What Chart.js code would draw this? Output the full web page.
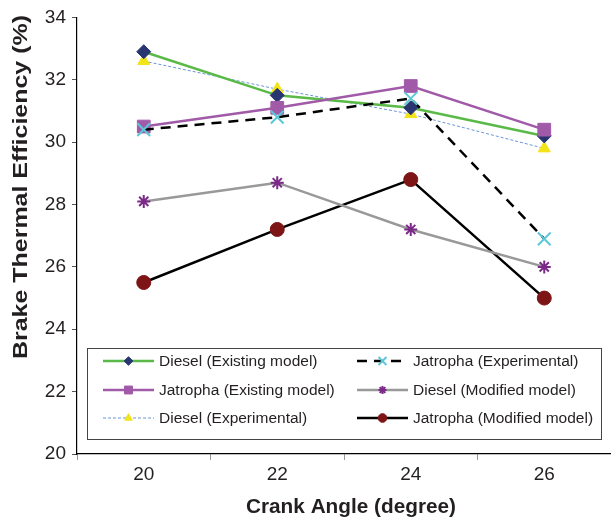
<!DOCTYPE html>
<html>
<head>
  <meta charset="UTF-8">
  <title>Brake Thermal Efficiency vs Crank Angle</title>
  <script src="https://cdn.jsdelivr.net/npm/chart.js"></script>
  <style>
    html, body { margin: 0; padding: 0; background: #fff; }
    #wrap { width: 611px; height: 519px; position: relative; }
  </style>
</head>
<body>
  <div id="wrap"><canvas id="bte"></canvas></div>

  <script>
    // crank angle (degree)
    const crankAngles = ['20', '22', '24', '26'];
    const yTicks = [20, 22, 24, 26, 28, 30, 32, 34];

    // brake thermal efficiency (%)
    const dieselExisting   = [32.9, 31.5, 31.1, 30.2];
    const jatrophaExisting = [30.5, 31.1, 31.8, 30.4];
    const dieselExp        = [32.6, 31.7, 30.9, 29.8];
    const jatrophaExp      = [30.4, 30.8, 31.4, 26.9];
    const dieselModified   = [28.1, 28.7, 27.2, 26.0];
    const jatrophaModified = [25.5, 27.2, 28.8, 25.0];

    const FONT = '"Liberation Sans", Arial, sans-serif';

    // legend drawn inside the plot, two columns of three
    const boxLegend = {
      id: 'boxLegend',
      afterDraw(chart) {
        const ctx = chart.ctx;
        ctx.save();
        ctx.fillStyle = '#fff';
        ctx.fillRect(87, 348, 514, 91);
        ctx.strokeStyle = '#444';
        ctx.lineWidth = 1;
        ctx.strokeRect(87.5, 348.5, 514, 91);

        const cols = [103, 357];
        const rows = [361, 390, 418];
        chart.data.datasets.forEach((ds, i) => {
          const x0 = cols[Math.floor(i / 3)];
          const y = rows[i % 3];
          ctx.save();
          ctx.strokeStyle = ds.borderColor;
          ctx.lineWidth = ds.borderWidth;
          ctx.setLineDash(ds.borderDash || []);
          ctx.beginPath();
          ctx.moveTo(x0, y);
          ctx.lineTo(x0 + 51, y);
          ctx.stroke();
          ctx.restore();

          ctx.save();
          ctx.fillStyle = ds.pointBackgroundColor;
          ctx.strokeStyle = ds.pointBorderColor;
          ctx.lineWidth = ds.pointBorderWidth;
          Chart.helpers.drawPoint(ctx, {
            pointStyle: ds.pointStyle,
            radius: ds.pointRadius * 0.62,
            rotation: 0,
            borderWidth: ds.pointBorderWidth
          }, x0 + 25.5, y);
          ctx.restore();

          ctx.fillStyle = '#231f20';
          ctx.font = '15.5px ' + FONT;
          ctx.textBaseline = 'middle';
          ctx.textAlign = 'left';
          ctx.fillText(ds.label, x0 + 56, y + 1);
        });

        // axis titles
        const drawTitle = (text, cx, cy, len, rot, size) => {
          ctx.save();
          ctx.font = 'bold ' + size + 'px ' + FONT;
          ctx.fillStyle = '#231f20';
          ctx.textAlign = 'center';
          ctx.textBaseline = 'middle';
          ctx.translate(cx, cy);
          ctx.rotate(rot);
          const w = ctx.measureText(text).width;
          ctx.scale(len / w, 1);
          ctx.fillText(text, 0, 0);
          ctx.restore();
        };
        drawTitle('Brake Thermal Efficiency (%)', 21, 187, 344, -Math.PI / 2, 21);
        drawTitle('Crank Angle (degree)', 351, 507, 210, 0, 20);
        ctx.restore();
      }
    };

    function series(label, data, line, marker, order) {
      return Object.assign({
        label: label,
        data: data,
        fill: false,
        tension: 0,
        order: order,
        pointBorderWidth: 1
      }, line, marker);
    }

    const datasets = [
      series('Diesel (Existing model)', dieselExisting,
        { borderColor: '#5aba47', borderWidth: 2.5 },
        { pointStyle: 'rectRot', pointRadius: 7, pointBackgroundColor: '#283570', pointBorderColor: '#283570' }, 3),
      series('Jatropha (Existing model)', jatrophaExisting,
        { borderColor: '#a05aa8', borderWidth: 2.5 },
        { pointStyle: 'rect', pointRadius: 9, pointBackgroundColor: '#a05aa8', pointBorderColor: '#a05aa8' }, 2),
      series('Diesel (Experimental)', dieselExp,
        { borderColor: '#6b95d8', borderWidth: 1, borderDash: [3, 2] },
        { pointStyle: 'triangle', pointRadius: 7, pointBackgroundColor: '#f2e419', pointBorderColor: '#f2e419' }, 4),
      series('Jatropha (Experimental)', jatrophaExp,
        { borderColor: '#000', borderWidth: 2.5, borderDash: [10, 7] },
        { pointStyle: 'crossRot', pointRadius: 9, pointBackgroundColor: '#5bc8d8', pointBorderColor: '#5bc8d8', pointBorderWidth: 2 }, 1),
      series('Diesel (Modified model)', dieselModified,
        { borderColor: '#999', borderWidth: 2.5 },
        { pointStyle: 'star', pointRadius: 6.5, pointBackgroundColor: '#7b2a88', pointBorderColor: '#7b2a88', pointBorderWidth: 2 }, 5),
      series('Jatropha (Modified model)', jatrophaModified,
        { borderColor: '#000', borderWidth: 2.5 },
        { pointStyle: 'circle', pointRadius: 7, pointBackgroundColor: '#7d1416', pointBorderColor: '#7d1416' }, 6)
    ];
    datasets.forEach(d => { d.pointHoverRadius = d.pointRadius; });

    new Chart(document.getElementById('bte'), {
      type: 'line',
      data: { labels: crankAngles, datasets: datasets },
      options: {
        responsive: true,
        maintainAspectRatio: false,
        animation: false,
        layout: {
          autoPadding: false,
          padding: { top: 16, right: -4, left: 0, bottom: 0 }
        },
        plugins: {
          legend: { display: false },
          tooltip: { enabled: false }
        },
        scales: {
          x: {
            type: 'category',
            offset: true,
            border: { color: '#000', width: 1.2 },
            grid: { offset: true, drawOnChartArea: false, tickLength: 6, color: '#999' },
            ticks: { color: '#231f20', padding: 3, font: { family: FONT, size: 19 } },
            afterFit(scale) {
              scale.height = 65;
              // the last category runs slightly past the right edge
              scale.paddingLeft = 0;
              scale.paddingRight = 0;
            }
          },
          y: {
            min: 20,
            max: 34,
            afterBuildTicks(scale) { scale.ticks = yTicks.map(v => ({ value: v })); },
            border: { color: '#000', width: 1.2 },
            grid: { drawOnChartArea: false, tickLength: 5, color: '#555' },
            ticks: { color: '#231f20', padding: 6, font: { family: FONT, size: 19 } },
            afterFit(scale) { scale.width = 77; }
          }
        }
      },
      plugins: [boxLegend]
    });
  </script>
</body>
</html>
